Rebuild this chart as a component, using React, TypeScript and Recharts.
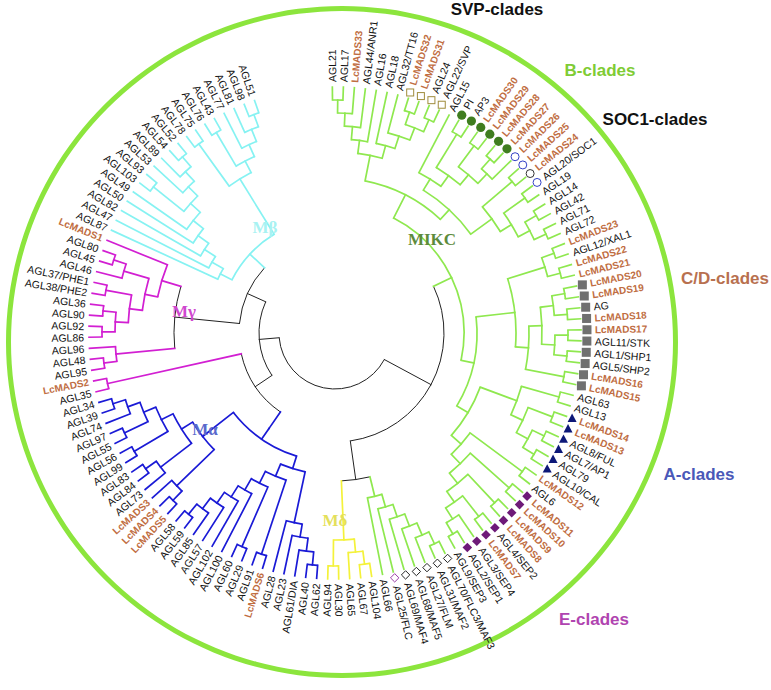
import React from "react";
import { PieChart, Pie, Customized } from "recharts";

// ---- tree topology (clockwise leaf order comes from these) ----
const anr1Tree = "((((AGL21,AGL17),LcMADS33),AGL44/ANR1),AGL16)";
const svpTree = "(AGL18,(AGL32/TT16,((LcMADS32,LcMADS31),(AGL24,AGL22/SVP))))";
const bTree = "(AGL15,((PI,AP3),((LcMADS30,LcMADS29),((LcMADS28,LcMADS27),LcMADS26))))";
const soc1Tree = "((LcMADS25,LcMADS24),((AGL20/SOC1,AGL19),((AGL14,AGL42),(AGL71,AGL72))))";
const xalTree = "((LcMADS23,AGL12/XAL1),(LcMADS22,LcMADS21))";
const cdTree =
  "((((LcMADS20,LcMADS19),(AG,LcMADS18)),((LcMADS17,AGL11/STK),(AGL1/SHP1,AGL5/SHP2))),(LcMADS16,LcMADS15))";
const aTree = "((AGL63,AGL13),((LcMADS14,LcMADS13),((AGL8/FUL,AGL7/AP1),(AGL79,AGL10/CAL))))";
const eTree =
  "((LcMADS12,AGL6),((LcMADS11,LcMADS10),((LcMADS9,LcMADS8),((AGL4/SEP2,LcMADS7),(AGL3/SEP4,(AGL2/SEP1,AGL9/SEP3))))))";
const mikcTree = `(((${anr1Tree},${svpTree}),(${bTree},${soc1Tree})),((${xalTree},${cdTree}),(${aTree},${eTree})))`;
const flcTree = "((((((AGL70/FLC3/MAF3,AGL31/MAF2),AGL27/FLM),AGL68/MAF5),AGL69/MAF4),AGL25/FLC),AGL66)";
const mDeltaTree = "(((AGL104,AGL67),AGL65),(AGL30,AGL94))";
const mAlphaTree =
  "(((((((AGL62,AGL40),AGL61/DIA),AGL23),AGL28),((LcMADS6,AGL91),((AGL29,AGL60),(AGL100,(AGL102,(AGL57,(AGL85,(AGL59,AGL58)))))))),(((LcMADS5,LcMADS4),LcMADS3),((AGL73,(AGL84,AGL83)),((AGL99,AGL56),((AGL55,AGL97),(AGL74,(AGL39,AGL34)))))))";
const mGamma3Tree = "(AGL35,LcMADS2)";
const mGamma2Tree = "((AGL95,AGL48),AGL96)";
const mGammaTree =
  "(((((AGL86,AGL92),(AGL90,AGL36)),(AGL38/PHE2,AGL37/PHE1)),(AGL46,(AGL45,AGL80))),LcMADS1)";
const mBetaTree =
  "((AGL87,(AGL47,(AGL82,(AGL50,(AGL49,((AGL103,AGL93),(AGL53,(AGL89,(AGL54,AGL52))))))))),((AGL78,AGL75),((AGL76,AGL43),(AGL77,(AGL81,(AGL98,AGL51))))))";
const backboneTree = "((MIKC,(FLC,Md)),((Ma,Mg3),((Mg2,Mg),Mb)))";

const cladeKeys = ["MIKC", "FLC", "Md", "Ma", "Mg3", "Mg2", "Mg", "Mb"];
const cladeTrees = [mikcTree, flcTree, mDeltaTree, mAlphaTree, mGamma3Tree, mGamma2Tree, mGammaTree, mBetaTree];

// ---- leaf markers ----
const svpSquares = ["LcMADS32", "LcMADS31", "AGL24", "AGL22/SVP"];
const bCircles = ["PI", "AP3", "LcMADS30", "LcMADS29", "LcMADS28", "LcMADS27"];
const socBlueRings = ["LcMADS26", "LcMADS25", "AGL20/SOC1"];
const socBlackRings = ["LcMADS24"];
const cdSquares = ["LcMADS20", "LcMADS19", "AG", "LcMADS18", "LcMADS17", "AGL11/STK", "AGL1/SHP1", "AGL5/SHP2", "LcMADS16", "LcMADS15"];
const aTriangles = ["LcMADS14", "LcMADS13", "AGL8/FUL", "AGL7/AP1", "AGL79", "AGL10/CAL"];
const eDiamonds = ["LcMADS11", "LcMADS10", "LcMADS9", "LcMADS8", "AGL4/SEP2", "LcMADS7", "AGL3/SEP4", "AGL2/SEP1"];
const flcDiamonds = ["AGL70/FLC3/MAF3", "AGL31/MAF2", "AGL27/FLM", "AGL68/MAF5", "AGL69/MAF4"];
const flcPurpleDiamonds = ["AGL25/FLC"];

const outerLabels = ["SVP-clades", "B-clades", "SOC1-clades", "C/D-clades", "A-clades", "E-clades"];
const innerLabels = ["MIKC", "Mβ", "Mγ", "Mα", "Mδ"];

// ---- styles / layout ----
const W = 771;
const H = 690;
const CX = 335;
const CY = 333;
const TIP_R = 246;
const MARK_R = 252;
const TEXT_R = 251;
const TEXT_R_MARKED = 260;
const STEP = 13;
const BGAP = 20;
const START_ANGLE = 91.9;
const END_ANGLE = START_ANGLE - 344.1;
const GREEN = "#8fe84f";
const cladeColor: Record<string, string> = {
  MIKC: GREEN,
  FLC: GREEN,
  Md: "#f4f23a",
  Ma: "#1a1ad6",
  Mg3: "#d21fd2",
  Mg2: "#d21fd2",
  Mg: "#d21fd2",
  Mb: "#86f2f2",
};
const LC_COLOR = "#c06d42";
const FONT = "'Liberation Sans', Arial, sans-serif";

type TNode = { name?: string; children: TNode[]; color: string; h: number; r: number; a: number; idx?: number };

function parse(s: string, color: string): TNode {
  let i = 0;
  const node = (): TNode => {
    if (s[i] === "(") {
      i++;
      const children = [node()];
      while (s[i] === ",") {
        i++;
        children.push(node());
      }
      i++;
      return { children, color, h: 0, r: 0, a: 0 };
    }
    let name = "";
    while (i < s.length && !",()".includes(s[i])) name += s[i++];
    return { name: name.trim(), children: [], color, h: 0, r: 0, a: 0 };
  };
  return node();
}

function expand(n: TNode): TNode {
  if (!n.children.length && n.name && cladeKeys.includes(n.name)) {
    const k = cladeKeys.indexOf(n.name);
    return parse(cladeTrees[k], cladeColor[n.name]);
  }
  n.children = n.children.map(expand);
  return n;
}

const tree = expand(parse(backboneTree, "#222"));
const leafNames: string[] = [];
(function collect(n: TNode) {
  if (!n.children.length) {
    n.idx = leafNames.length;
    leafNames.push(n.name as string);
  } else n.children.forEach(collect);
})(tree);

const N = leafNames.length;
const sliceW = (START_ANGLE - END_ANGLE) / N;
const thetaOf = (i: number) => 90 - (START_ANGLE - (i + 0.5) * sliceW);

(function layout(n: TNode) {
  if (!n.children.length) {
    n.h = 0;
    n.r = TIP_R;
    n.a = thetaOf(n.idx as number);
    return;
  }
  n.children.forEach(layout);
  n.h = 1 + Math.max(...n.children.map((c) => c.h));
  n.a = (n.children[0].a + n.children[n.children.length - 1].a) / 2;
  if (n.color === "#222") n.r = Math.min(...n.children.map((c) => c.r)) - BGAP;
  else n.r = TIP_R - n.h * STEP;
})(tree);

const leafData = leafNames.map((name) => ({ name, value: 1 }));
const ringData = [{ name: "ring", value: 1 }];

const pt = (r: number, deg: number) => {
  const t = (deg * Math.PI) / 180;
  return [CX + r * Math.sin(t), CY - r * Math.cos(t)];
};

const TreeBranches = () => {
  const paths: React.ReactNode[] = [];
  const walk = (n: TNode) => {
    if (!n.children.length) return;
    const a1 = n.children[0].a;
    const a2 = n.children[n.children.length - 1].a;
    const [x1, y1] = pt(n.r, a1);
    const [x2, y2] = pt(n.r, a2);
    paths.push(
      <path
        key={`arc${paths.length}`}
        d={`M${x1},${y1}A${n.r},${n.r} 0 ${a2 - a1 > 180 ? 1 : 0} 1 ${x2},${y2}`}
        fill="none"
        stroke={n.color}
        strokeWidth={n.color === "#222" ? 1 : 1.7}
      />
    );
    n.children.forEach((c) => {
      const [sx, sy] = pt(n.r, c.a);
      const [ex, ey] = pt(c.r, c.a);
      paths.push(
        <line
          key={`ln${paths.length}`}
          x1={sx}
          y1={sy}
          x2={ex}
          y2={ey}
          stroke={c.color}
          strokeWidth={c.color === "#222" ? 1 : 1.7}
          strokeLinecap="square"
        />
      );
      walk(c);
    });
  };
  walk(tree);
  return <g>{paths}</g>;
};

const markerOf = (name: string) => {
  if (svpSquares.includes(name)) return "svp";
  if (bCircles.includes(name)) return "b";
  if (socBlueRings.includes(name)) return "socBlue";
  if (socBlackRings.includes(name)) return "socBlack";
  if (cdSquares.includes(name)) return "cd";
  if (aTriangles.includes(name)) return "a";
  if (eDiamonds.includes(name)) return "e";
  if (flcDiamonds.includes(name)) return "flc";
  if (flcPurpleDiamonds.includes(name)) return "flcP";
  return null;
};

const drawMarker = (kind: string, x: number, y: number) => {
  switch (kind) {
    case "svp":
      return <rect x={x - 3.5} y={y - 3.5} width={7} height={7} fill="none" stroke="#a08c3c" strokeWidth={1} />;
    case "b":
      return <circle cx={x} cy={y} r={4.6} fill="#3f7d1f" />;
    case "socBlue":
      return <circle cx={x} cy={y} r={4} fill="none" stroke="#3341c6" strokeWidth={1} />;
    case "socBlack":
      return <circle cx={x} cy={y} r={4} fill="none" stroke="#333" strokeWidth={1} />;
    case "cd":
      return <rect x={x - 4.5} y={y - 4.5} width={9} height={9} fill="#707070" />;
    case "a":
      return <path d={`M${x},${y - 4.8}L${x + 4.5},${y + 3.6}L${x - 4.5},${y + 3.6}Z`} fill="#0d1878" />;
    case "e":
      return <path d={`M${x},${y - 4.8}L${x + 4.8},${y}L${x},${y + 4.8}L${x - 4.8},${y}Z`} fill="#6e1a78" />;
    case "flc":
      return <path d={`M${x},${y - 4.2}L${x + 4.2},${y}L${x},${y + 4.2}L${x - 4.2},${y}Z`} fill="none" stroke="#222" strokeWidth={1} />;
    default:
      return <path d={`M${x},${y - 4.2}L${x + 4.2},${y}L${x},${y + 4.2}L${x - 4.2},${y}Z`} fill="none" stroke="#9a3aa6" strokeWidth={1} />;
  }
};

const renderLeafLabel = (props: any) => {
  const { midAngle, index } = props;
  const name = leafNames[index];
  const theta = 90 - midAngle;
  const kind = markerOf(name);
  const [tx, ty] = pt(kind ? TEXT_R_MARKED : TEXT_R, theta);
  const right = theta < 180;
  const rot = right ? theta - 90 : theta + 90;
  const isLc = name.startsWith("LcMADS");
  let mark = null;
  if (kind) {
    const [mx, my] = pt(MARK_R, theta);
    mark = drawMarker(kind, mx, my);
  }
  return (
    <g>
      {mark}
      <text
        x={tx}
        y={ty}
        transform={`rotate(${rot},${tx},${ty})`}
        textAnchor={right ? "start" : "end"}
        dominantBaseline="central"
        fontFamily={FONT}
        fontSize={isLc ? 10 : 10.5}
        fontWeight={isLc ? "bold" : "normal"}
        fill={isLc ? LC_COLOR : "#111"}
      >
        {name}
      </text>
    </g>
  );
};

const CladeLabels = () => {
  const outer = [
    { x: 497, y: 15, c: "#111" },
    { x: 600, y: 76, c: "#7fcc35" },
    { x: 655, y: 125, c: "#111" },
    { x: 725, y: 284, c: "#b8704f" },
    { x: 699, y: 480, c: "#4a58b8" },
    { x: 594, y: 625, c: "#b044b0" },
  ];
  const inner = [
    { x: 432, y: 245, c: "#5d8b3c" },
    { x: 265, y: 233, c: "#a8f2f2" },
    { x: 184, y: 317, c: "#cf48cf" },
    { x: 205, y: 435, c: "#5a68cc" },
    { x: 335, y: 526, c: "#e4e05a" },
  ];
  return (
    <g>
      {outerLabels.map((t, i) => (
        <text key={t} x={outer[i].x} y={outer[i].y} textAnchor="middle" fontFamily={FONT} fontWeight="bold" fontSize={17} fill={outer[i].c}>
          {t}
        </text>
      ))}
      {innerLabels.map((t, i) => (
        <text key={t} x={inner[i].x} y={inner[i].y} textAnchor="middle" fontFamily="'Liberation Serif', 'Times New Roman', serif" fontWeight="bold" fontSize={17} fill={inner[i].c}>
          {t}
        </text>
      ))}
    </g>
  );
};

export default function App() {
  return (
    <div style={{ position: "absolute", left: 0, top: 0, width: W, height: H, background: "#fff" }}>
      <PieChart width={W} height={H} margin={{ top: 0, right: 0, bottom: 0, left: 0 }}>
        <Pie
          data={ringData}
          dataKey="value"
          cx={342}
          cy={342}
          innerRadius={331}
          outerRadius={336}
          startAngle={90}
          endAngle={-270}
          fill="#8ce53d"
          stroke="none"
          isAnimationActive={false}
        />
        <Customized component={TreeBranches} />
        <Pie
          data={leafData}
          dataKey="value"
          cx={CX}
          cy={CY}
          innerRadius={TIP_R - 1}
          outerRadius={TIP_R}
          startAngle={START_ANGLE}
          endAngle={END_ANGLE}
          fill="none"
          stroke="none"
          label={renderLeafLabel}
          labelLine={false}
          isAnimationActive={false}
        />
        <Customized component={CladeLabels} />
      </PieChart>
    </div>
  );
}
